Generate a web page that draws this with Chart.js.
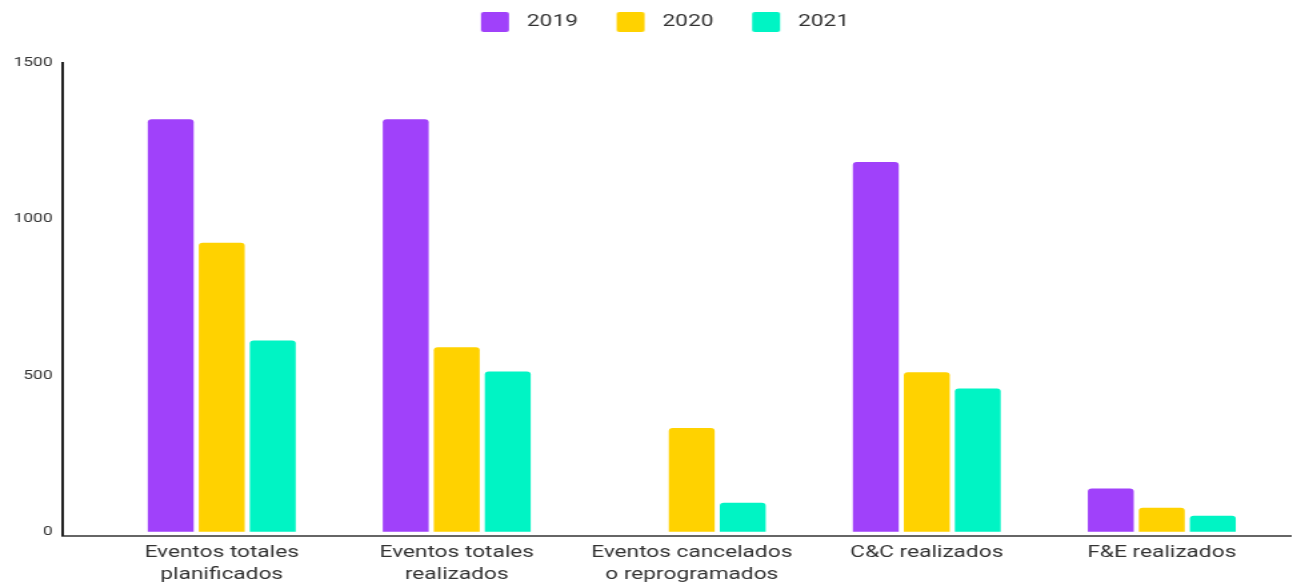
<!DOCTYPE html>
<html>
<head>
<meta charset="utf-8">
<script src="https://cdn.jsdelivr.net/npm/chart.js@4.4.0/dist/chart.umd.min.js"></script>
<style>
  html, body { margin: 0; padding: 0; background: #fff; overflow: hidden; }
  /* the reference is stretched sideways, so draw narrow and scale */
  #wrap { width: 970px; height: 582px; transform: scaleX(1.333); transform-origin: 0 0; }
</style>
</head>
<body>
<div id="wrap"><canvas id="myChart" width="970" height="582"></canvas></div>
<script>
var categories = [
  ["Eventos totales", "planificados"],
  ["Eventos totales", "realizados"],
  ["Eventos cancelados", "o reprogramados"],
  "C&C realizados",
  "F&E realizados"
];
var years = ["2019", "2020", "2021"];
var values2019 = [1320, 1320, 0, 1183, 138];
var values2020 = [925, 590, 332, 510, 77];
var values2021 = [612, 513, 93, 458, 51];
var yTicks = [0, 500, 1000, 1500];
var colors = ["#A041FA", "#FFD200", "#00F4C4"];

function points(vals) {
  return vals.map(function (v, i) { return { x: i, y: v }; });
}

// legend swatch with some empty room around it, so the text sits further off
function swatch(color) {
  var c = document.createElement('canvas');
  c.width = 53;
  c.height = 20;
  var g = c.getContext('2d');
  g.fillStyle = color;
  g.beginPath();
  g.roundRect(27, 0, 21, 20, 2);
  g.fill();
  return c;
}
var swatches = colors.map(swatch);

// extra room under the legend
var legendGap = {
  id: 'legendGap',
  afterInit: function (chart) {
    var fit = chart.legend.fit;
    chart.legend.fit = function () {
      fit.call(this);
      this.height += 22.5;
    };
  }
};

var series = [values2019, values2020, values2021];
var ctx = document.getElementById('myChart').getContext('2d');
var myChart = new Chart(ctx, {
  type: 'bar',
  data: {
    datasets: series.map(function (vals, i) {
      return {
        label: years[i],
        data: points(vals),
        backgroundColor: colors[i],
        borderWidth: 0,
        borderRadius: 3,
        barPercentage: 0.9,
        categoryPercentage: 0.651
      };
    })
  },
  plugins: [legendGap],
  options: {
    responsive: false,
    animation: false,
    layout: { padding: { top: 11.5, left: 2.75, right: 2, bottom: -10 } },
    plugins: {
      tooltip: { enabled: false },
      legend: {
        position: 'top',
        labels: {
          usePointStyle: true,
          pointStyleWidth: 53,
          boxHeight: 20,
          padding: 2,
          color: '#333',
          font: { family: 'Roboto', size: 17 },
          generateLabels: function (chart) {
            var items = Chart.defaults.plugins.legend.labels.generateLabels(chart);
            items.forEach(function (it, i) { it.pointStyle = swatches[i]; });
            return items;
          }
        }
      }
    },
    scales: {
      x: {
        type: 'linear',
        offset: false,
        min: -0.677,
        max: 4.547,
        grid: { display: false, drawTicks: false },
        border: { display: true, color: '#666', width: 2 },
        afterBuildTicks: function (axis) {
          axis.ticks = categories.map(function (c, i) { return { value: i }; });
        },
        ticks: {
          autoSkip: false,
          maxRotation: 0,
          padding: 6,
          color: '#333',
          font: { family: 'Roboto', size: 17, lineHeight: 1.3 },
          callback: function (value) { return categories[Math.round(value)]; }
        }
      },
      y: {
        min: -13,
        max: 1500,
        grid: { display: false, drawTicks: false },
        border: { display: true, color: '#222', width: 2 },
        afterBuildTicks: function (axis) {
          axis.ticks = yTicks.map(function (v) { return { value: v }; });
        },
        ticks: {
          padding: 7.5,
          color: '#333',
          font: { family: 'Roboto', size: 13 },
          callback: function (value) { return String(value); }
        }
      }
    }
  }
});
</script>
</body>
</html>
